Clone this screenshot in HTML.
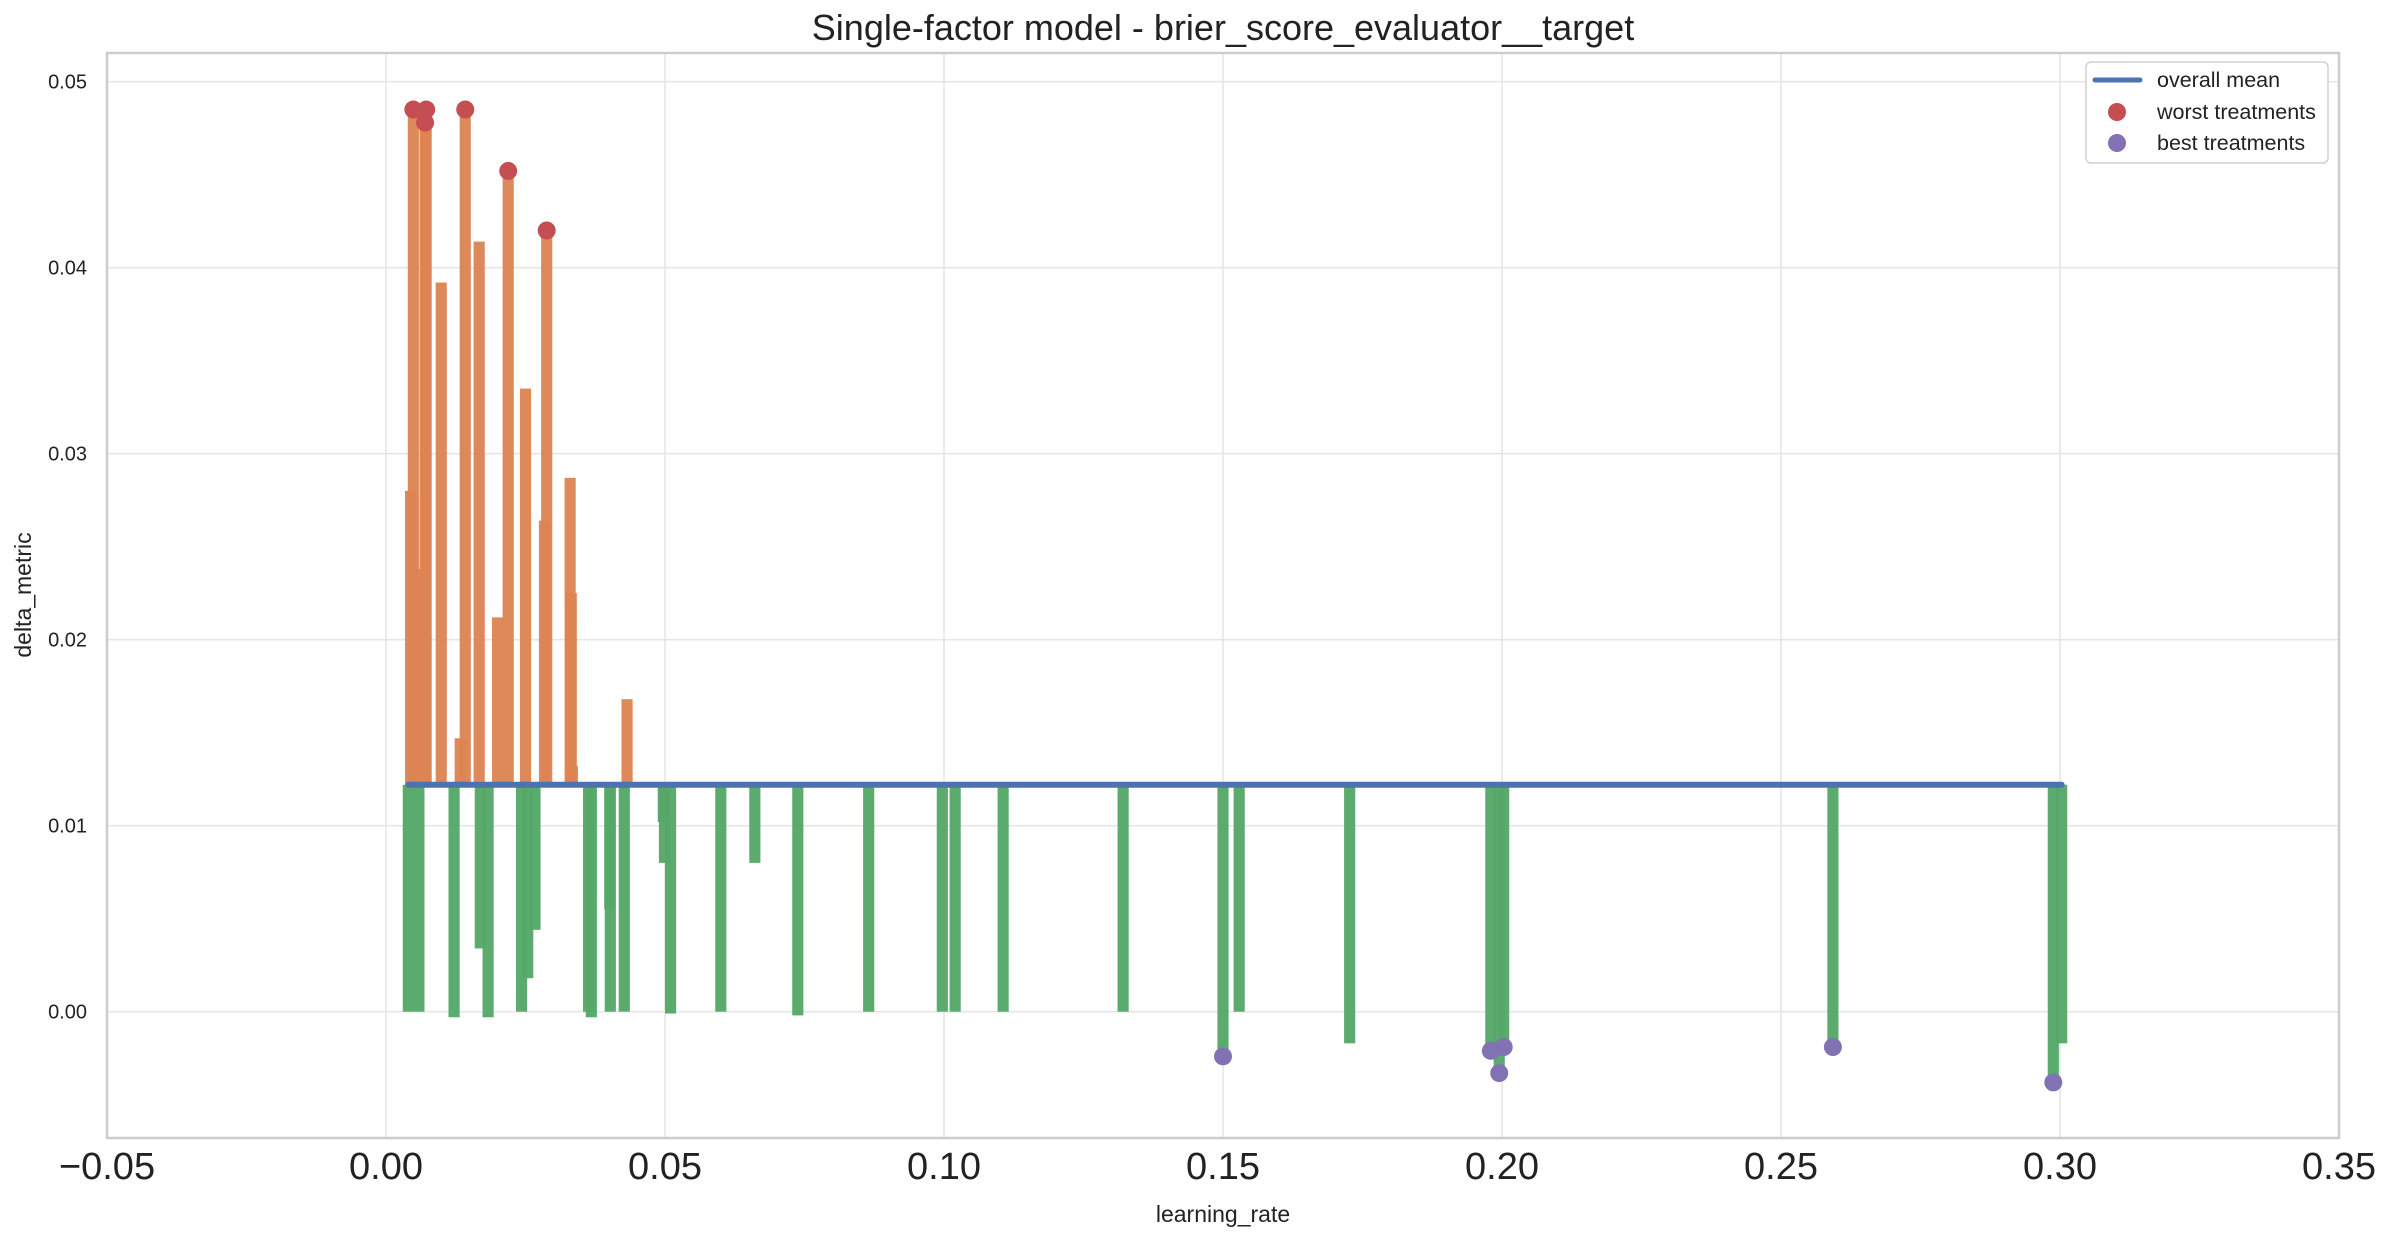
<!DOCTYPE html>
<html><head><meta charset="utf-8"><style>
html,body{margin:0;padding:0;background:#fff;}
svg{display:block;font-family:"Liberation Sans",Arial,sans-serif;}
</style></head><body>
<svg id="chart" width="2392" height="1240" viewBox="0 0 2392 1240" xmlns="http://www.w3.org/2000/svg">
<rect width="2392" height="1240" fill="#fff"/>
<g id="grid"></g>
<g id="bars"></g>
<g id="meanline"></g>
<g id="dots"></g>
<rect x="107" y="53" width="2232" height="1085" fill="none" stroke="#cccccc" stroke-width="2.5"/>
<g id="ticks"></g>
<text x="1223" y="40" text-anchor="middle" font-size="36" fill="#222">Single-factor model - brier_score_evaluator__target</text>
<text x="1223" y="1222" text-anchor="middle" font-size="23" fill="#222">learning_rate</text>
<text transform="translate(31,595) rotate(-90)" text-anchor="middle" font-size="23" fill="#222">delta_metric</text>
<g>
<rect x="2086" y="62" width="242" height="101" rx="5" fill="#fff" stroke="#d0d0d0" stroke-width="1.5"/>
<line x1="2095" y1="80" x2="2140" y2="80" stroke="#4c72b0" stroke-width="5" stroke-linecap="round"/>
<text x="2157" y="87" font-size="21.5" fill="#222">overall mean</text>
<circle cx="2117" cy="112" r="9" fill="#c44e52"/>
<text x="2157" y="119" font-size="21.5" fill="#222">worst treatments</text>
<circle cx="2117" cy="143" r="9" fill="#8172b3"/>
<text x="2157" y="150" font-size="21.5" fill="#222">best treatments</text>
</g>
</svg>
<script>
const learningRates = [0.0044,0.0049,0.0058,0.0070,0.0072,0.0099,0.0133,0.0142,0.0167,0.0200,0.0219,0.0250,0.0284,0.0288,0.0330,0.0332,0.0334,0.0432,
0.0040,0.0059,0.0122,0.0169,0.0183,0.0243,0.0254,0.0267,0.0363,0.0368,0.0401,0.0402,0.0427,0.0497,0.0499,0.0510,0.0600,0.0661,0.0738,0.0865,0.0997,0.1020,0.1106,0.1321,0.1500,0.1529,0.1727,0.1980,0.1995,0.2003,0.2593,0.2988,0.3003];
const deltas = [0.0280,0.0485,0.0238,0.0478,0.0485,0.0392,0.0147,0.0485,0.0414,0.0212,0.0452,0.0335,0.0264,0.0420,0.0287,0.0225,0.0132,0.0168,
0.0000,0.0000,-0.0003,0.0034,-0.0003,0.0000,0.0018,0.0044,0.0000,-0.0003,0.0055,0.0000,0.0000,0.0102,0.0080,-0.0001,0.0000,0.0080,-0.0002,0.0000,0.0000,0.0000,0.0000,0.0000,-0.0024,0.0000,-0.0017,-0.0021,-0.0033,-0.0019,-0.0019,-0.0038,-0.0017];
const overallMean = [0.0122];
const xTicks = [-0.05,0.00,0.05,0.10,0.15,0.20,0.25,0.30,0.35];
const xTickLabels = ["\u22120.05","0.00","0.05","0.10","0.15","0.20","0.25","0.30","0.35"];
const yTicks = [0.00,0.01,0.02,0.03,0.04,0.05];
const yTickLabels = ["0.00","0.01","0.02","0.03","0.04","0.05"];
const nExtreme = 6;

const L=107,R=2339,T=53,B=1138;
const xMin=-0.05,xMax=0.35,yMin=-0.00679,yMax=0.05154;
function xs(v){return L+(v-xMin)/(xMax-xMin)*(R-L);}
function ys(v){return B-(v-yMin)/(yMax-yMin)*(B-T);}
const NS="http://www.w3.org/2000/svg";
function mk(tag,attrs,parent){const e=document.createElementNS(NS,tag);for(const k in attrs)e.setAttribute(k,attrs[k]);parent.appendChild(e);return e;}
const grid=document.getElementById('grid'),ticks=document.getElementById('ticks');
xTicks.forEach((t,i)=>{
  const g=mk('line',{x1:xs(t),x2:xs(t),y1:T,y2:B,stroke:'#e6e6e6','stroke-width':1.6},grid);
  
  
  const tx=mk('text',{x:xs(t),y:1179,'text-anchor':'middle','font-size':38,fill:'#222'},ticks);
  tx.textContent=xTickLabels[i];
  
  
});
yTicks.forEach((t,i)=>{
  const g=mk('line',{x1:L,x2:R,y1:ys(t),y2:ys(t),stroke:'#e6e6e6','stroke-width':1.6},grid);
  
  
  const tx=mk('text',{x:87,y:ys(t)+7,'text-anchor':'end','font-size':20,fill:'#222'},ticks);
  tx.textContent=yTickLabels[i];
  
  
});
const m=overallMean[0];
const bars=document.getElementById('bars');
const bw=xs(0.002)-xs(0);
learningRates.forEach((lr,i)=>{
  const d=deltas[i];
  const y0=ys(Math.max(d,m)),y1=ys(Math.min(d,m));
  const r=mk('rect',{x:xs(lr)-bw/2,y:y0,width:bw,height:Math.max(y1-y0,0.5),fill:d>=m?'#dd8452':'#55a868',opacity:0.96},bars);
  
  
});
const minLr=Math.min(...learningRates),maxLr=Math.max(...learningRates);
const ml=mk('line',{x1:xs(minLr),x2:xs(maxLr),y1:ys(m),y2:ys(m),stroke:'#4c72b0','stroke-width':6,'stroke-linecap':'round'},document.getElementById('meanline'));


const idx=learningRates.map((_,i)=>i);
const worst=[...idx].sort((a,b)=>deltas[b]-deltas[a]).slice(0,nExtreme);
const best=[...idx].sort((a,b)=>deltas[a]-deltas[b]).slice(0,nExtreme);
const dots=document.getElementById('dots');
worst.forEach(i=>{
  const c=mk('circle',{cx:xs(learningRates[i]),cy:ys(deltas[i]),r:9,fill:'#c44e52'},dots);
  
  
});
best.forEach(i=>{
  const c=mk('circle',{cx:xs(learningRates[i]),cy:ys(deltas[i]),r:9,fill:'#8172b3'},dots);
  
  
});
</script>
</body></html>
